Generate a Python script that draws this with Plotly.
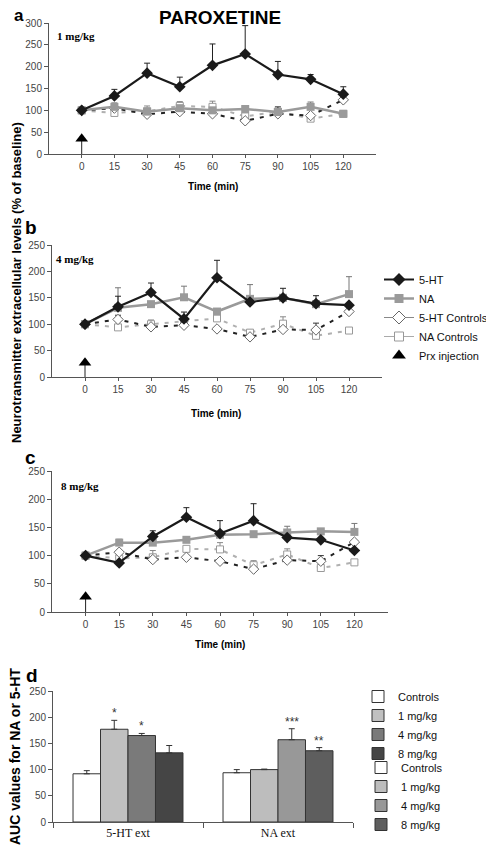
import plotly.graph_objects as go

# ---------------- data ----------------
time = [0, 15, 30, 45, 60, 75, 90, 105, 120]
time_ticks = [0, 15, 30, 45, 60, 75, 90, 105, 120]

# panel a (1 mg/kg)
a_5ht = [100, 133, 185, 154, 203, 229, 182, 171, 137]
a_5ht_err = [0, 15, 23, 22, 49, 65, 30, 11, 17]
a_na = [100, 108, 97, 105, 100, 103, 96, 108, 92]
a_na_err = [0, 9, 0, 0, 0, 5, 0, 11, 0]
a_5htc = [100, 105, 91, 97, 92, 76, 92, 88, 124]
a_5htc_err = [0, 0, 0, 0, 0, 0, 16, 0, 0]
a_nac = [100, 94, 98, 110, 108, 86, 97, 81, 92]
a_nac_err = [0, 0, 12, 10, 13, 0, 0, 0, 0]

# panel b (4 mg/kg)
b_5ht = [100, 133, 160, 110, 188, 142, 150, 139, 136]
b_5ht_err = [0, 20, 18, 13, 33, 0, 18, 15, 0]
b_na = [100, 131, 138, 151, 124, 148, 150, 138, 157]
b_na_err = [0, 38, 0, 21, 0, 27, 0, 0, 33]
b_5htc = [100, 109, 95, 98, 91, 76, 90, 89, 124]
b_5htc_err = [0, 8, 0, 0, 0, 0, 0, 13, 0]
b_nac = [100, 94, 100, 106, 111, 84, 101, 78, 88]
b_nac_err = [0, 0, 8, 0, 0, 5, 13, 0, 0]

# panel c (8 mg/kg)
c_5ht = [100, 87, 134, 168, 139, 162, 132, 128, 109]
c_5ht_err = [0, 0, 10, 17, 23, 30, 0, 0, 0]
c_na = [100, 123, 123, 128, 137, 138, 141, 143, 142]
c_na_err = [0, 6, 0, 0, 0, 0, 11, 0, 15]
c_5htc = [100, 106, 93, 97, 90, 76, 92, 90, 124]
c_5htc_err = [0, 0, 0, 0, 0, 0, 0, 10, 0]
c_nac = [100, 95, 97, 112, 111, 83, 102, 78, 88]
c_nac_err = [0, 0, 12, 0, 12, 8, 10, 0, 0]

injection_time = 0
arrow_level = {"a": 35, "b": 27, "c": 27}

# panel d (AUC)
d_categories = ["5-HT ext", "NA ext"]
d_doses = ["Controls", "1 mg/kg", "4 mg/kg", "8 mg/kg"]
d_5ht = [92, 177, 165, 132]
d_5ht_err = [6, 17, 4, 14]
d_na = [94, 100, 157, 136]
d_na_err = [6, 1, 21, 6]
d_5ht_stars = ["", "*", "*", ""]
d_na_stars = ["", "", "***", "**"]

# ---------------- styling ----------------
PAGE_OFF = 8                      # default body margin of the html page
W, H = 494 - PAGE_OFF, 849 - PAGE_OFF
SANS = "Liberation Sans, Arial, sans-serif"
SERIF = "Liberation Serif, Times New Roman, serif"
AX = "#555555"
TICKC = "#444444"

col_5ht_bars = ["#ffffff", "#c0c0c0", "#7a7a7a", "#454545"]
col_na_bars = ["#ffffff", "#bdbdbd", "#989898", "#5e5e5e"]


def fx(x):
    return (x - PAGE_OFF) / W


def fy(y):
    return 1 - (y - PAGE_OFF) / H


def px_dom_x(x0, x1):
    return [fx(x0), fx(x1)]


def px_dom_y(top, bottom):
    return [fy(bottom), fy(top)]


fig = go.Figure()

panels = [
    ("a", "x", "y", a_5ht, a_5ht_err, a_na, a_na_err, a_5htc, a_5htc_err, a_nac, a_nac_err),
    ("b", "x2", "y2", b_5ht, b_5ht_err, b_na, b_na_err, b_5htc, b_5htc_err, b_nac, b_nac_err),
    ("c", "x3", "y3", c_5ht, c_5ht_err, c_na, c_na_err, c_5htc, c_5htc_err, c_nac, c_nac_err),
]


def up_err(vals, color):
    return dict(type="data", array=vals, arrayminus=[0] * len(vals), symmetric=False,
                color=color, thickness=1, width=3)


for (p, xa, ya, s, se, n, ne, sc, sce, nc, nce) in panels:
    fig.add_trace(go.Scatter(x=[injection_time, injection_time], y=[0, arrow_level[p]],
                             mode="lines", line=dict(color="#222222", width=1),
                             xaxis=xa, yaxis=ya, showlegend=False, hoverinfo="skip"))
    fig.add_trace(go.Scatter(x=time, y=nc, mode="lines+markers", name="NA Controls",
                             line=dict(color="#b0b0b0", width=2, dash="4px,6px"),
                             marker=dict(symbol="square", size=7, color="white",
                                         line=dict(color="#999999", width=1)),
                             error_y=up_err(nce, "#888888"),
                             xaxis=xa, yaxis=ya, showlegend=False))
    fig.add_trace(go.Scatter(x=time, y=sc, mode="lines+markers", name="5-HT Controls",
                             line=dict(color="#222222", width=2, dash="4px,6px"),
                             marker=dict(symbol="diamond", size=8, color="white",
                                         line=dict(color="#666666", width=1)),
                             error_y=up_err(sce, "#333333"),
                             xaxis=xa, yaxis=ya, showlegend=False))
    fig.add_trace(go.Scatter(x=time, y=n, mode="lines+markers", name="NA",
                             line=dict(color="#9a9a9a", width=2.5),
                             marker=dict(symbol="square", size=8, color="#9a9a9a"),
                             error_y=up_err(ne, "#777777"),
                             xaxis=xa, yaxis=ya, showlegend=False))
    fig.add_trace(go.Scatter(x=time, y=s, mode="lines+markers", name="5-HT",
                             line=dict(color="#1a1a1a", width=2.2),
                             marker=dict(symbol="diamond", size=9, color="#1a1a1a"),
                             error_y=up_err(se, "#222222"),
                             xaxis=xa, yaxis=ya, showlegend=False))
    fig.add_trace(go.Scatter(x=[injection_time], y=[arrow_level[p]], mode="markers",
                             name="Prx injection",
                             marker=dict(symbol="triangle-up", size=11, color="#000000"),
                             xaxis=xa, yaxis=ya, showlegend=False, cliponaxis=False))

legend_items = [
    ("5-HT", dict(color="#1a1a1a", width=2), dict(symbol="diamond", size=10, color="#1a1a1a")),
    ("NA", dict(color="#9a9a9a", width=2.5), dict(symbol="square", size=9, color="#9a9a9a")),
    ("5-HT Controls", dict(color="#888888", width=1),
     dict(symbol="diamond", size=10, color="white", line=dict(color="#666666", width=1))),
    ("NA Controls", dict(color="#aaaaaa", width=1),
     dict(symbol="square", size=9, color="white", line=dict(color="#999999", width=1))),
]
for name, ln, mk in legend_items:
    fig.add_trace(go.Scatter(x=[None], y=[None], mode="lines+markers", name=name,
                             line=ln, marker=mk, xaxis="x2", yaxis="y2", legend="legend"))
fig.add_trace(go.Scatter(x=[None], y=[None], mode="markers", name="Prx injection",
                         marker=dict(symbol="triangle-up", size=12, color="#000000"),
                         xaxis="x2", yaxis="y2", legend="legend"))

# ---------------- panel d bars ----------------
groups = ["c", "1", "4", "8"]
for i, dose in enumerate(d_doses):
    fig.add_trace(go.Bar(x=[d_categories[0]], y=[d_5ht[i]], name=dose,
                         marker=dict(color=col_5ht_bars[i], line=dict(color="#333333", width=1)),
                         error_y=up_err([d_5ht_err[i]], "#333333"),
                         offsetgroup=groups[i], xaxis="x4", yaxis="y4", legend="legend2"))
for i, dose in enumerate(d_doses):
    fig.add_trace(go.Bar(x=[d_categories[1]], y=[d_na[i]], name=dose,
                         marker=dict(color=col_na_bars[i], line=dict(color="#333333", width=1)),
                         error_y=up_err([d_na_err[i]], "#333333"),
                         offsetgroup=groups[i], xaxis="x4", yaxis="y4", legend="legend3"))

bargap = 0.267
nb = len(d_doses)
bw = (1 - bargap) / nb
annotations = []
for ci, (vals, errs, stars) in enumerate([(d_5ht, d_5ht_err, d_5ht_stars), (d_na, d_na_err, d_na_stars)]):
    for i in range(nb):
        if stars[i]:
            annotations.append(dict(x=ci + (i - (nb - 1) / 2) * bw, y=vals[i] + errs[i],
                                    xref="x4", yref="y4", text=stars[i], showarrow=False,
                                    xanchor="center", yanchor="bottom", yshift=-2,
                                    font=dict(family=SANS, size=12, color="#333333")))

# ---------------- axes ----------------
def time_xaxis(dom, anchor):
    return dict(domain=dom, anchor=anchor, range=[-15, 135], tickmode="array",
                tickvals=time_ticks, ticktext=[str(t) for t in time_ticks],
                showline=True, linecolor=AX, linewidth=1, ticks="outside", ticklen=3,
                tickcolor=AX, showgrid=False, zeroline=False,
                tickfont=dict(family=SANS, size=10, color=TICKC))


def val_yaxis(dom, anchor, top):
    return dict(domain=dom, anchor=anchor, range=[0, top], dtick=50, tick0=0,
                showline=True, linecolor=AX, linewidth=1, ticks="outside", ticklen=4,
                tickcolor=AX, showgrid=False, zeroline=False,
                tickfont=dict(family=SANS, size=10, color=TICKC))


fig.update_layout(
    width=W, height=H, margin=dict(l=0, r=0, t=0, b=0, autoexpand=False),
    paper_bgcolor="white", plot_bgcolor="white",
    barmode="group", bargap=bargap, bargroupgap=0,
    xaxis=time_xaxis(px_dom_x(49, 376), "y"),
    yaxis=val_yaxis(px_dom_y(23, 154), "x", 300),
    xaxis2=time_xaxis(px_dom_x(52, 382), "y2"),
    yaxis2=val_yaxis(px_dom_y(245, 377), "x2", 250),
    xaxis3=time_xaxis(px_dom_x(52, 388), "y3"),
    yaxis3=val_yaxis(px_dom_y(471, 612), "x3", 250),
    xaxis4=dict(domain=px_dom_x(53, 353), anchor="y4", type="category",
                categoryarray=d_categories, tickson="boundaries", ticks="outside",
                ticklen=5, tickcolor=AX, showline=True, linecolor=AX, showgrid=False,
                tickfont=dict(family=SERIF, size=12, color="#111111")),
    yaxis4=val_yaxis(px_dom_y(691, 822), "x4", 250),
    legend=dict(x=fx(379), y=fy(265), xanchor="left", yanchor="top",
                font=dict(family=SANS, size=11, color="#111111"), bgcolor="rgba(0,0,0,0)",
                itemwidth=30, tracegroupgap=0),
    legend2=dict(x=fx(358), y=fy(682), xanchor="left", yanchor="top",
                 font=dict(family=SANS, size=11, color="#111111"), bgcolor="rgba(0,0,0,0)",
                 itemwidth=30),
    legend3=dict(x=fx(361), y=fy(753), xanchor="left", yanchor="top",
                 font=dict(family=SANS, size=11, color="#111111"), bgcolor="rgba(0,0,0,0)",
                 itemwidth=30),
    showlegend=True,
)


def pa(x, y, text, size, family=SANS, bold=True, xanchor="center", **kw):
    t = f"<b>{text}</b>" if bold else text
    d = dict(x=fx(x), y=fy(y), xref="paper", yref="paper", text=t, showarrow=False,
             xanchor=xanchor, yanchor="middle",
             font=dict(family=family, size=size, color="#000000"))
    d.update(kw)
    return d


annotations += [
    pa(220, 17, "PAROXETINE", 19),
    pa(19, 16, "a", 17),
    pa(31, 227, "b", 19),
    pa(30, 457, "c", 19),
    pa(32, 675, "d", 19),
    pa(55, 36, "1 mg/kg", 11, SERIF, xanchor="left"),
    pa(54, 259, "4 mg/kg", 11, SERIF, xanchor="left"),
    pa(59, 486, "8 mg/kg", 11, SERIF, xanchor="left"),
    pa(213, 186, "Time (min)", 10),
    pa(216, 413, "Time (min)", 10),
    pa(220, 644, "Time (min)", 10),
    pa(16, 283, "Neurotransmitter extracellular levels (% of baseline)", 13, textangle=-90),
    pa(15, 757, "AUC values for NA or 5-HT", 14, textangle=-90),
]
fig.update_layout(annotations=annotations)

fig.write_html("out.html")
